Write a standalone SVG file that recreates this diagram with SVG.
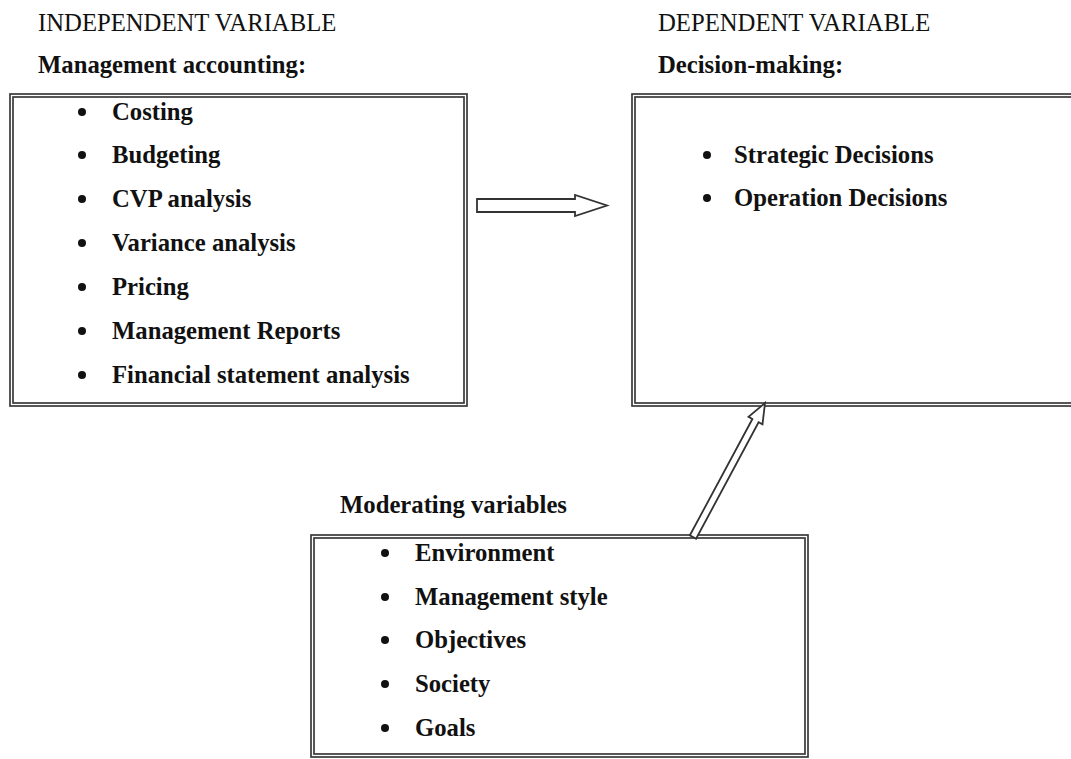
<svg xmlns="http://www.w3.org/2000/svg" width="1071" height="759" viewBox="0 0 1071 759">
<defs>
<style>
text{font-family:"Liberation Serif","Times New Roman",serif;fill:#111;font-size:24.7px}
.h{font-weight:normal}
.b{font-weight:bold}
.box{fill:none;stroke:#3a3a3a;stroke-width:1.7}
.dot{fill:#111}
.arr{fill:#fff;stroke:#333;stroke-width:1.8;stroke-linejoin:miter}
</style>
</defs>
<rect width="1071" height="759" fill="#fff"/>
<g id="independent">
<text class="h" x="38" y="31">INDEPENDENT VARIABLE</text>
<text class="b" x="38" y="73">Management accounting:</text>
<rect class="box" x="10" y="94" width="457" height="312"/>
<rect class="box" x="13" y="97" width="451" height="306"/>
<circle class="dot" cx="82" cy="112" r="4"/><text class="b" x="112" y="120">Costing</text>
<circle class="dot" cx="82" cy="155" r="4"/><text class="b" x="112" y="163">Budgeting</text>
<circle class="dot" cx="82" cy="199" r="4"/><text class="b" x="112" y="207">CVP analysis</text>
<circle class="dot" cx="82" cy="243" r="4"/><text class="b" x="112" y="251">Variance analysis</text>
<circle class="dot" cx="82" cy="287" r="4"/><text class="b" x="112" y="295">Pricing</text>
<circle class="dot" cx="82" cy="331" r="4"/><text class="b" x="112" y="339">Management Reports</text>
<circle class="dot" cx="82" cy="375" r="4"/><text class="b" x="112" y="383">Financial statement analysis</text>
</g>
<g id="dependent">
<text class="h" x="658" y="31">DEPENDENT VARIABLE</text>
<text class="b" x="658" y="73">Decision-making:</text>
<rect class="box" x="632" y="94" width="450" height="312"/>
<rect class="box" x="635" y="97" width="450" height="306"/>
<circle class="dot" cx="707" cy="155" r="4"/><text class="b" x="734" y="163">Strategic Decisions</text>
<circle class="dot" cx="707" cy="198" r="4"/><text class="b" x="734" y="206">Operation Decisions</text>
</g>
<g id="moderating">
<text class="b" x="340" y="513">Moderating variables</text>
<rect class="box" x="311" y="535" width="497" height="222"/>
<rect class="box" x="314" y="538" width="491" height="216"/>
<circle class="dot" cx="385" cy="553" r="4"/><text class="b" x="415" y="561">Environment</text>
<circle class="dot" cx="385" cy="597" r="4"/><text class="b" x="415" y="605">Management style</text>
<circle class="dot" cx="385" cy="640" r="4"/><text class="b" x="415" y="648">Objectives</text>
<circle class="dot" cx="385" cy="684" r="4"/><text class="b" x="415" y="692">Society</text>
<circle class="dot" cx="385" cy="728" r="4"/><text class="b" x="415" y="736">Goals</text>
</g>
<g id="connectors">
<polygon class="arr" points="477,199 575,199 575,195 607,205.5 575,216 575,212 477,212"/>
<polygon class="arr" points="689.9,535.3 752.4,419 748.5,416.8 765,403 762.5,424.4 758.6,422.3 696.1,538.7"/>
</g>
</svg>
